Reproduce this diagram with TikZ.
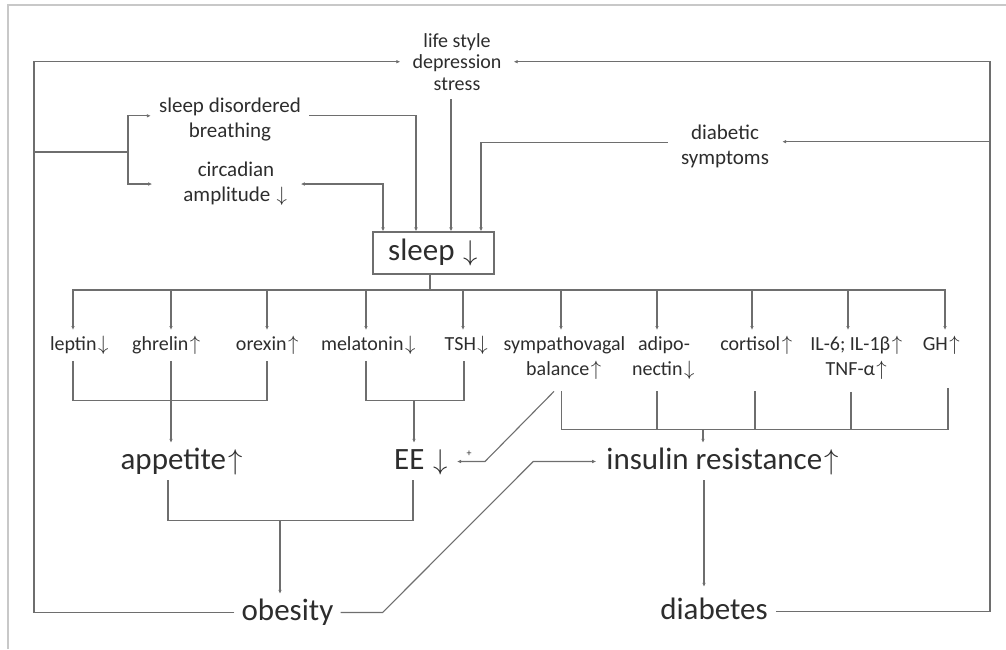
\documentclass[tikz,border=0pt]{standalone}
\usepackage{fontspec}
\setmainfont{Carlito}
\usetikzlibrary{arrows.meta,calc}
\definecolor{txt}{RGB}{45,45,45}
\definecolor{lc}{RGB}{110,110,110}
\definecolor{fr}{RGB}{200,200,200}
\newcommand\mydn{{\kern1.5pt$\downarrow$\kern1.5pt}}
\newcommand\myup{{\kern1.5pt$\uparrow$\kern1.5pt}}
\newcommand\bigdn{{\kern2pt\scalebox{1.15}{$\downarrow$}\kern1pt}}
\newcommand\bigup{{\kern2pt\scalebox{1.15}{$\uparrow$}\kern1pt}}
\begin{document}
\begin{tikzpicture}[x=1pt,y=-1pt,
  ln/.style={draw=lc, line width=1.1pt},
  arr/.style={ln, -{Latex[length=4pt,width=3.6pt]}},
  dbl/.style={ln, {Latex[length=4pt,width=3.6pt]}-{Latex[length=4pt,width=3.6pt]}},
  sm/.style={text=txt, font=\fontsize{20}{25}\selectfont, align=center, inner xsep=0pt, inner ysep=6pt, anchor=north},
  up3/.style={text=txt, font=\fontsize{21}{25}\selectfont, align=center, inner xsep=8pt, inner ysep=0pt, anchor=north},
  big/.style={text=txt, font=\fontsize{31}{36}\selectfont, text height=22pt, text depth=7pt, inner ysep=4pt, anchor=base},
]
\useasboundingbox (0,0) rectangle (1006,649);
\draw[draw=fr, line width=2pt] (8,649) -- (8,5) -- (1006,5);

% top texts
\node[up3, font=\fontsize{20}{21.5}\selectfont, inner xsep=12pt] (ls) at (457,33) {life style\\depression\\stress};
\node[up3, inner xsep=8pt] (sdb) at (230,98) {sleep disordered\\breathing};
\node[up3, inner xsep=12pt] (ca) at (236,162) {circadian\\amplitude \mydn};
\node[up3, inner xsep=13pt] (ds) at (725,125) {diabetic\\symptoms};
\node[draw=lc, line width=1.1pt, text=txt, font=\fontsize{31}{36}\selectfont, minimum width=121pt, minimum height=42pt, inner sep=0pt] (sleep) at (433.5,253) {sleep \bigdn};

% row labels
\node[sm] (lep) at (80,330) {leptin\mydn};
\node[sm] (ghr) at (167,330) {ghrelin\myup};
\node[sm] (ore) at (268,330) {orexin\myup};
\node[sm] (mel) at (369,330) {melatonin\mydn};
\node[sm] (tsh) at (467,330) {TSH\mydn};
\node[sm] (sym) at (564.5,330) {sympathovagal\\balance\myup};
\node[sm] (adi) at (664,330) {adipo-\\nectin\mydn};
\node[sm] (cor) at (757,330) {cortisol\myup};
\node[sm] (il) at (857,330) {IL-6; IL-1β\myup\\TNF-α\myup};
\node[sm] (gh) at (942,330) {GH\myup};

% big labels
\node[big] (app) at (182,469) {appetite\bigup};
\node[big, inner xsep=8pt] (ee) at (421.5,469) {EE \bigdn};
\node[big, inner xsep=10pt] (ir) at (723,469) {insulin resistance\bigup};
\node[big, inner xsep=7pt] (ob) at (287.5,620) {obesity};
\node[big, inner xsep=8pt] (di) at (714,619) {diabetes};
\node[text=txt, font=\fontsize{10}{12}\selectfont, inner sep=0pt] (plus) at (469,454) {+};

% outer loops
\coordinate (xL) at (34,0);
\coordinate (xR) at (990,0);
\draw[arr] (ob.west) -| (ls.west -| xL) -- (ls.west);
\draw[arr] (di.east) -| (ls.east -| xR) -- (ls.east);
\draw[arr] ([yshift=5pt]ds.east -| xR) -- ([yshift=5pt]ds.east);

% branch to sleep disordered breathing / circadian
\coordinate (jB) at (128,152);
\draw[ln] (jB -| xL) -- (jB);
\draw[arr] (jB) |- ([yshift=4pt]sdb.west);
\draw[arr] (jB) |- ([xshift=-19pt]ca.west);

% inputs to sleep
\draw[arr] ([yshift=4pt]sdb.east) -| ([xshift=-17.5pt]sleep.north);
\draw[dbl] (ca.east) -| ([xshift=-50.5pt]sleep.north);
\draw[arr, shorten <=9pt] ([xshift=-6pt]ls.south) -- ([xshift=17.5pt]sleep.north);
\draw[arr] ([yshift=4pt]ds.west) -| ([xshift=47.5pt]sleep.north);

% sleep to labels
\coordinate (bus) at (430,290);
\draw[ln] (bus |- sleep.south) -- (bus);
\foreach \n/\dx in {lep/-7,ghr/4,ore/-1,mel/-3,tsh/-4,sym/-3.5,adi/-7,cor/-5,il/-9,gh/3}
  \draw[arr] (bus) -| ([xshift=\dx pt]\n.north);

% appetite group
\draw[ln] ([xshift=-7pt]lep.south) -- ++(0,40) -| ([xshift=-1pt]ore.south);
\draw[arr] ([xshift=4pt]ghr.south) -- ([xshift=4pt]ghr.south |- app.north);

% EE group
\draw[ln] ([xshift=-3pt]mel.south) -- ++(0,40) coordinate (bM) -| ([xshift=-3pt]tsh.south);
\draw[arr] ([xshift=-7.5pt]ee.north |- bM) -- ([xshift=-7.5pt]ee.north);

% insulin resistance group
\draw[ln, shorten <=6pt, shorten >=3pt] ([xshift=-3pt]sym.south) -- ++(0,44) coordinate (bR) -| ([xshift=6pt]gh.south |- sym.south);
\draw[ln, shorten <=6pt] ([xshift=-7pt]adi.south) -- ([xshift=-7pt]adi.south |- bR);
\draw[ln, shorten <=6pt] ([xshift=-2pt]cor.south |- sym.south) -- ([xshift=-2pt]cor.south |- bR);
\draw[ln, shorten <=6pt] ([xshift=-6pt]il.south) -- ([xshift=-6pt]il.south |- bR);
\draw[arr] ([xshift=-20pt]ir.north |- bR) -- ([xshift=-20pt]ir.north);

% sympathovagal to EE
\draw[arr, shorten <=8.5pt] ([xshift=-4.5pt]sym.south) -- ($(ee.east)+(28,0)$) -- (ee.east);

% appetite / EE to obesity
\draw[ln] ([xshift=-14pt]app.south) -- ++(0,40) coordinate (bA) -| ([xshift=-8.5pt]ee.south);
\draw[arr] ([xshift=-7.5pt]ob.north |- bA) -- ([xshift=-7.5pt]ob.north);

% obesity to insulin resistance
\draw[arr] (ob.east) -- ++(42,0) -- ($(ir.west)+(-63,0)$) -- (ir.west);

% insulin resistance to diabetes
\draw[arr, shorten >=6pt] ([xshift=-19pt]ir.south) -- ([xshift=-19pt]ir.south |- di.north);
\end{tikzpicture}
\end{document}
